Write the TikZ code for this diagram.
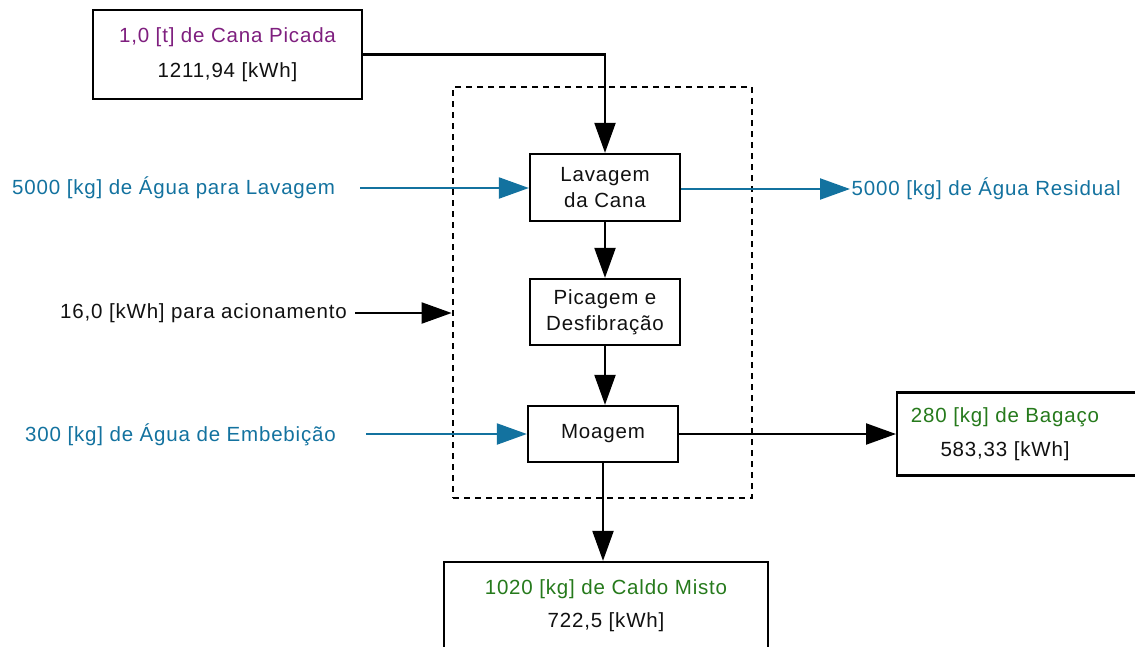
\documentclass[tikz,border=0pt]{standalone}
\usepackage{fontspec}
\setmainfont{Liberation Sans}[LetterSpace=4]
\usetikzlibrary{arrows.meta}
\definecolor{cpurple}{HTML}{7F1F7F}
\definecolor{cblue}{HTML}{13729F}
\definecolor{cgreen}{HTML}{267A1C}
\definecolor{ctext}{HTML}{111111}
\begin{document}
\begin{tikzpicture}[x=1pt,y=1pt,
  font=\fontsize{20.5}{26}\selectfont, text=ctext,
  box/.style={draw=black, line width=2.3pt, align=center, inner sep=0pt, fill=white},
  proc/.style={box, minimum width=150pt},
  dashbox/.style={draw=black, line width=2.8pt, dash pattern=on 6pt off 5pt},
  flow/.style={draw=black, line width=2.2pt, -{Triangle[length=30pt,width=21pt]}},
  wflow/.style={flow, draw=cblue, -{Triangle[length=30pt,width=21pt,fill=cblue]}},
  lbl/.style={inner sep=0pt}]
\useasboundingbox (0,0) rectangle (1135,-646);
\clip (0,0) rectangle (1135,-646);

% system boundary
\node[dashbox, minimum width=299pt, minimum height=411pt] (sys) at (602.5,-292.5) {};

% process boxes
\node[box, minimum width=269pt, minimum height=89pt] (cana) at (227.5,-54.5)
  {\textcolor{cpurple}{1,0 [t] de Cana Picada}\\[9pt]1211,94 [kWh]};
\node[proc, minimum height=67pt] (lav) at (605,-187.5) {Lavagem\\da Cana};
\node[proc, minimum height=66pt] (pic) at (605,-312) {Picagem e\\Desfibração};
\node[proc, minimum height=56pt] (moa) at (603,-434) {Moagem};
\node[box, anchor=west, minimum width=250pt, minimum height=83pt] (bag) at (896,-434) {};
\node[lbl, align=center] (bagt) at (1005,-434.5)
  {\textcolor{cgreen}{280 [kg] de Bagaço}\\[8pt]583,33 [kWh]};
\node[box, minimum width=324pt, minimum height=87pt] (caldo) at (606,-605.5)
  {\textcolor{cgreen}{1020 [kg] de Caldo Misto}\\[7pt]722,5 [kWh]};

% outside labels
\node[lbl, anchor=west, text=cblue] (wl) at (12,-188) {5000 [kg] de Água para Lavagem};
\node[lbl, anchor=west, text=cblue, inner xsep=1.5pt] (wr) at (850,-189) {5000 [kg] de Água Residual};
\node[lbl, anchor=east] (en) at (347,-313) {16,0 [kWh] para acionamento};
\node[lbl, anchor=west, text=cblue] (we) at (25,-435) {300 [kg] de Água de Embebição};

\coordinate (wls) at (360,-188);
\coordinate (ens) at (355,-313);
\coordinate (wes) at (366,-434);

% connectors
\draw[flow] (cana.east) -| (lav.north);
\draw[flow] (lav.south) -- (pic.north);
\draw[flow] (pic.south) -- (pic.south |- moa.north);
\draw[flow] (moa.south) -- (moa.south |- caldo.north);
\draw[flow] (moa.east) -- (moa.east -| bag.west);
\draw[flow] (ens) -- (ens -| sys.west);
\draw[wflow] (wls) -- (lav.west |- wls);
\draw[wflow] (lav.east |- wr.west) -- (wr.west);
\draw[wflow] (wes) -- (moa.west);
\end{tikzpicture}
\end{document}
